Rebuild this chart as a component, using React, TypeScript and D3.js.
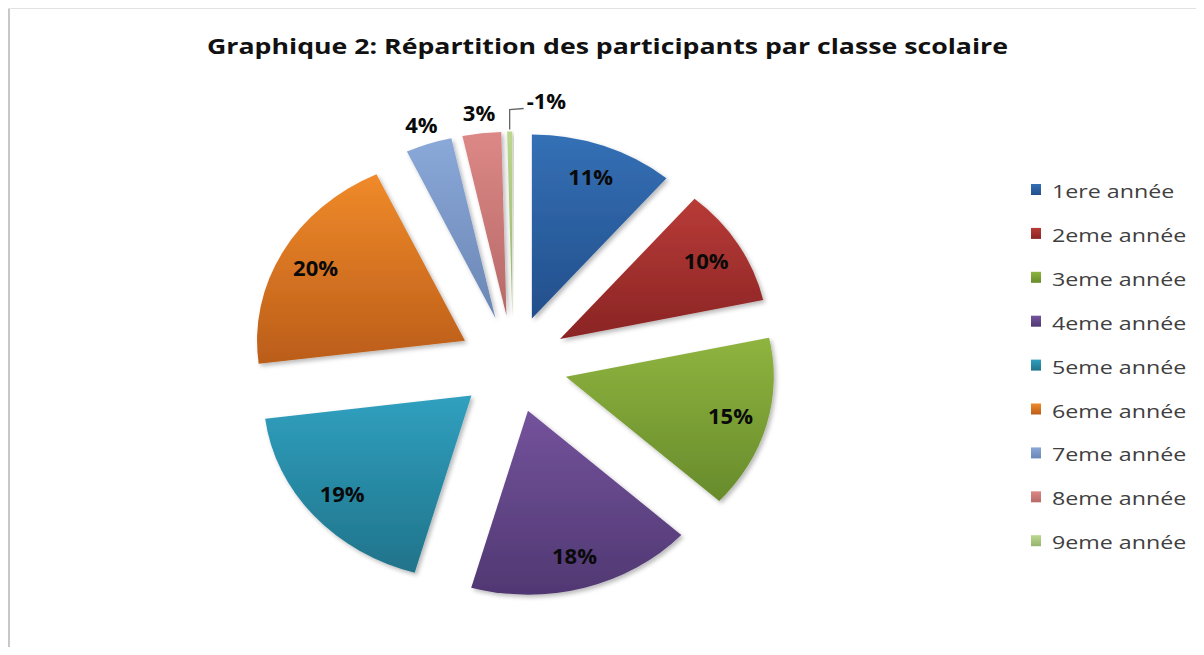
import React from "react";
import * as d3 from "d3";

const TITLE = "Graphique 2: Répartition des participants par classe scolaire";
const categories = [
  "1ere année", "2eme année", "3eme année", "4eme année", "5eme année",
  "6eme année", "7eme année", "8eme année", "9eme année",
];
const values = [11.2, 10.4, 15.2, 17.6, 18.6, 20.0, 3.6, 3.0, 0.4];
const labels = ["11%", "10%", "15%", "18%", "19%", "20%", "4%", "3%", "-1%"];
const labelModes = ["in", "in", "in", "in", "in", "in", "out", "out", "leader"];
const colorsTop = ["#3470b6", "#b83b37", "#8fb43f", "#74539c", "#30a0bf", "#f08a2a", "#8aa8d8", "#dc8886", "#bcd88f"];
const colorsBottom = ["#234f8b", "#8a2424", "#678b2b", "#503872", "#20738a", "#bb5d19", "#6a86b5", "#b66967", "#97b46d"];

const W = 1188;
const H = 639;
const CX = 505;
const CY = 356;
const R = 184;
const SX = 1.13;
const EXPLODE = 48.5;

export default function App() {
  const pie = d3.pie<number>().sort(null).value((d) => d);
  const arcs = pie(values);
  const arcGen = d3.arc<d3.PieArcDatum<number>>().innerRadius(0).outerRadius(R);
  const pt = (dist: number, a: number): [number, number] => [
    CX + SX * dist * Math.sin(a),
    CY - dist * Math.cos(a),
  ];
  const legendY = d3.scaleLinear().domain([0, 8]).range([176, 176 + 8 * 43.9]);

  return (
    <svg width={W} height={H} style={{ display: "block" }} fontFamily="'Open Sans', sans-serif">
      <defs>
        {colorsTop.map((c, i) => (
          <linearGradient key={i} id={`g${i}`} x1="0" y1="0" x2="0" y2="1">
            <stop offset="0%" stopColor={c} />
            <stop offset="100%" stopColor={colorsBottom[i]} />
          </linearGradient>
        ))}
        <filter id="sh" x="-20%" y="-20%" width="140%" height="140%">
          <feDropShadow dx="2" dy="2.5" stdDeviation="2" floodColor="#000" floodOpacity="0.28" />
        </filter>
      </defs>
      <rect x={0} y={0} width={W} height={H} fill="#ffffff" />
      <line x1={1} y1={0} x2={1} y2={H} stroke="#c8c8c8" strokeWidth={2} />
      <line x1={0} y1={0.5} x2={W} y2={0.5} stroke="#e2e2e2" strokeWidth={1} />

      <text x={199} y={46} fontSize={21.5} fontWeight="bold" fill="#111" textLength={801} lengthAdjust="spacingAndGlyphs">
        {TITLE}
      </text>

      <g transform={`translate(${CX},${CY}) scale(${SX},1)`}>
        {arcs.map((a, i) => {
          const mid = (a.startAngle + a.endAngle) / 2;
          const ox = EXPLODE * Math.sin(mid);
          const oy = -EXPLODE * Math.cos(mid);
          return (
            <path
              key={i}
              d={arcGen(a) || ""}
              transform={`translate(${ox},${oy})`}
              fill={`url(#g${i})`}
              filter="url(#sh)"
            />
          );
        })}
      </g>

      {arcs.map((a, i) => {
        const mid = (a.startAngle + a.endAngle) / 2;
        const mode = labelModes[i];
        if (mode === "in") {
          const [x, y] = pt(EXPLODE + 0.82 * R, mid);
          return (
            <text key={i} x={x} y={y} dy="0.36em" textAnchor="middle" fontSize={22} fontWeight="bold" fill="#0a0a0a">
              {labels[i]}
            </text>
          );
        }
        if (mode === "out") {
          const [x, y] = pt(EXPLODE + R + 20, mid);
          return (
            <text key={i} x={x} y={y} dy="0.36em" textAnchor="middle" fontSize={22} fontWeight="bold" fill="#0a0a0a">
              {labels[i]}
            </text>
          );
        }
        const [x0, y0] = pt(EXPLODE + R + 2, mid);
        const pts: [number, number][] = [[x0, y0], [x0, y0 - 20], [x0 + 14, y0 - 21]];
        return (
          <g key={i}>
            <path d={d3.line()(pts) || ""} fill="none" stroke="#666" strokeWidth={1.3} />
            <text x={x0 + 17} y={y0 - 21} fontSize={22} fontWeight="bold" fill="#0a0a0a">
              {labels[i]}
            </text>
          </g>
        );
      })}

      {categories.map((c, i) => {
        const y = legendY(i);
        return (
          <g key={c}>
            <rect x={1023} y={y} width={10} height={11} fill={`url(#g${i})`} />
            <g transform={`translate(1044,${y + 14}) scale(1.29,1)`}>
              <text x={0} y={0} fontSize={18} fill="#404040">
                {c}
              </text>
            </g>
          </g>
        );
      })}
    </svg>
  );
}
